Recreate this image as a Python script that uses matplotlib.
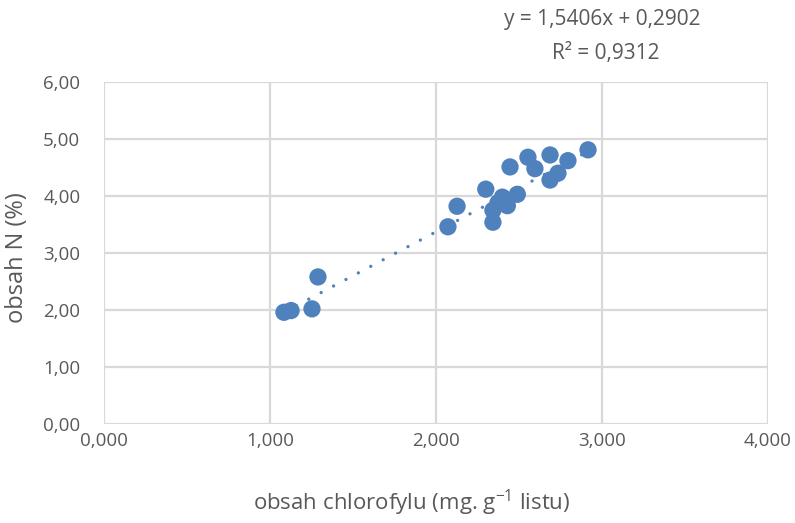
import numpy as np
import matplotlib
matplotlib.use("Agg")
import matplotlib.pyplot as plt
from matplotlib.ticker import FuncFormatter, MultipleLocator

plt.rcParams['font.family'] = ['Open Sans', 'DejaVu Sans']

# chlorophyll content (mg per g of leaf) vs nitrogen content (%)
chlorofyl = [1.084, 1.127, 1.253, 1.289, 2.072, 2.127, 2.300, 2.343, 2.343,
             2.373, 2.400, 2.430, 2.490, 2.446, 2.554, 2.596, 2.687, 2.687,
             2.735, 2.795, 2.916]
dusik = [1.96, 1.99, 2.02, 2.58, 3.46, 3.82, 4.12, 3.54, 3.75,
         3.88, 3.98, 3.83, 4.03, 4.51, 4.68, 4.48, 4.72, 4.28,
         4.40, 4.62, 4.81]

slope = 1.5406
intercept = 0.2902
r2 = 0.9312

blue = '#4F81BD'
grey_text = '#595959'

fig = plt.figure(figsize=(7.95, 5.23), dpi=100)
ax = fig.add_axes([0.1308, 0.1893, 0.8352, 0.6539])

# linear trendline across the data range, round dots
xt = np.linspace(min(chlorofyl), max(chlorofyl), 200)
ax.plot(xt, slope * xt + intercept, color=blue, lw=2.4,
        linestyle=(0, (0.01, 4.2)), dash_capstyle='round', zorder=2)

ax.scatter(chlorofyl, dusik, s=155, color=blue, edgecolors='none', zorder=3)

ax.set_xlim(0, 4)
ax.set_ylim(0, 6)
ax.xaxis.set_major_locator(MultipleLocator(1))
ax.yaxis.set_major_locator(MultipleLocator(1))
ax.xaxis.set_major_formatter(FuncFormatter(lambda v, p: f"{v:.3f}".replace('.', ',')))
ax.yaxis.set_major_formatter(FuncFormatter(lambda v, p: f"{v:.2f}".replace('.', ',')))

ax.grid(True, color='#D9D9D9', lw=1.6)
ax.set_axisbelow(True)
for s in ax.spines.values():
    s.set_visible(False)
ax.tick_params(axis='x', length=0, labelsize=13.5, labelcolor=grey_text, pad=6)
ax.tick_params(axis='y', length=0, labelsize=13.5, labelcolor=grey_text, pad=17)

# axis titles
fig.text(412 / 795, 1 - 503 / 523,
         'obsah chlorofylu (mg. g$^{\\mathregular{-1}}$ listu)',
         ha='center', va='center', fontsize=16, color=grey_text)
fig.text(17 / 795, 1 - 258 / 523, 'obsah N (%)', rotation=90,
         ha='center', va='center', fontsize=17, color=grey_text)

# regression equation
fig.text(602 / 795, 1 - 20 / 523, 'y = 1,5406x + 0,2902', ha='center',
         va='center', fontsize=15, color=grey_text)
fig.text(606 / 795, 1 - 53 / 523, f'R² = {r2:.4f}'.replace('.', ','),
         ha='center', va='center', fontsize=15, color=grey_text)

fig.savefig('out.png', dpi=100)
